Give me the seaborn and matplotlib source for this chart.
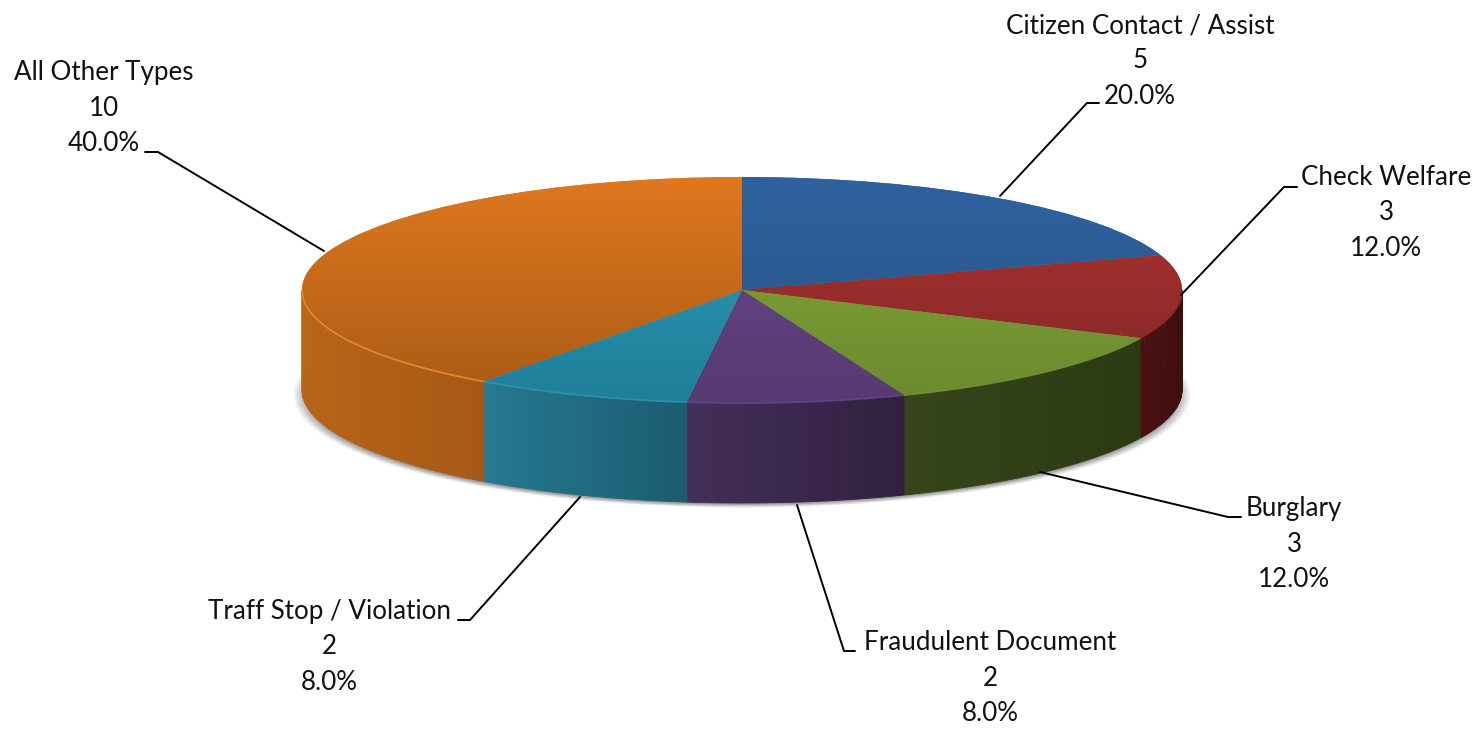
import numpy as np
import matplotlib
matplotlib.use("Agg")
import matplotlib.pyplot as plt
import matplotlib.transforms as mt
from matplotlib.colors import to_rgb
import seaborn as sns

categories = ["Citizen Contact / Assist", "Check Welfare", "Burglary",
              "Fraudulent Document", "Traff Stop / Violation", "All Other Types"]
counts = [5, 3, 3, 2, 2, 10]

top_light = ["#2e62a0", "#ad362f", "#86a93a", "#6a4a90", "#2f9db8", "#e0781f"]
top_dark = ["#2a5384", "#822528", "#6a8a2e", "#563a70", "#1f7f9a", "#a85a16"]
side_left = ["#4a1210", "#4a1210", "#36451a", "#432f5a", "#257a92", "#b96517"]
side_right = ["#3e0e0e", "#3e0e0e", "#2c3a12", "#322040", "#1c5c70", "#a65916"]
rim = ["#2e62a0", "#8a2a28", "#6f8f32", "#5f4384", "#2f8faa", "#e6842a"]

label_pos = [(1140, 61), (1386, 213), (1294, 544), (990, 678), (329, 647), (104, 108)]
leaders = [
    [(1000, 196), (1087, 103), (1099, 103)],
    [(1181, 295), (1284, 187), (1297, 187)],
    [(1040, 472), (1228, 517), (1241, 517)],
    [(797, 505), (844, 651), (855, 651)],
    [(580, 497), (470, 620), (458, 620)],
    [(324, 251), (158, 152), (145, 152)],
]

W, H = 1484, 730
CX, CY, RX, RY, DEPTH = 742, 290, 440, 113, 100

sns.set_theme(style="white")
plt.rcParams["font.family"] = ["Lato", "DejaVu Sans"]
palette = sns.color_palette(top_light)

fig = plt.figure(figsize=(W / 100, H / 100), dpi=100, facecolor="white")
ax = fig.add_axes([0, 0, 1, 1])

wedges, _ = ax.pie(counts, startangle=90, counterclock=False, radius=1,
                   colors=palette, wedgeprops=dict(linewidth=0))
ax.set_aspect("auto")
xlim = (-CX / RX, (W - CX) / RX)
ylim = ((CY - H) / RY, CY / RY)
ax.set_xlim(xlim)
ax.set_ylim(ylim)
ax.set_frame_on(False)
ax.set_xticks([])
ax.set_yticks([])
depth = DEPTH / RY

# soft shadow under the disc
xs = np.linspace(*xlim, 900)
ys = np.linspace(ylim[0], ylim[1], 500)
xx, yy = np.meshgrid(xs, ys)
d = np.sqrt((xx / 1.022) ** 2 + ((yy + 0.93) / 1.0) ** 2)
a = np.clip((1.0 - d) / 0.035, 0, 1) * 0.7
rgba = np.zeros(xx.shape + (4,))
rgba[..., :3] = 0.42
rgba[..., 3] = a
ax.imshow(rgba, extent=(*xlim, *ylim), origin="lower", aspect="auto", zorder=0.5)

# side wall
edges = np.concatenate([[0], np.cumsum(counts)]) / np.sum(counts) * 360
for i in range(len(counts)):
    t0, t1 = max(edges[i], 90), min(edges[i + 1], 270)
    if t1 <= t0:
        continue
    ts = np.radians(np.linspace(t0, t1, 41))
    xv, yv = np.sin(ts), np.cos(ts)
    left, right = np.array(to_rgb(side_left[i])), np.array(to_rgb(side_right[i]))
    for j in range(40):
        f = (xv[j] - xv.min()) / (xv.max() - xv.min())
        c = left + (right - left) * f
        ax.fill([xv[j], xv[j + 1], xv[j + 1], xv[j]],
                [yv[j], yv[j + 1], yv[j + 1] - depth, yv[j] - depth],
                color=c, lw=0.6, zorder=1)

# top face gradients, clipped to the wedges
for i, w in enumerate(wedges):
    w.set_zorder(2)
    c0, c1 = np.array(to_rgb(top_dark[i])), np.array(to_rgb(top_light[i]))
    g = np.linspace(0, 1, 256)[:, None, None]
    img = np.tile(c0[None, None, :], (256, 1, 1)) * (1 - g) + c1[None, None, :] * g
    im = ax.imshow(img, extent=(-1.01, 1.01, -1.01, 1.01), origin="lower",
                   aspect="auto", zorder=3, interpolation="bilinear")
    im.set_clip_path(w)
    t0, t1 = max(edges[i], 90), min(edges[i + 1], 270)
    if t1 > t0:
        ts = np.radians(np.linspace(t0, t1, 60))
        ax.plot(np.sin(ts), np.cos(ts), color=rim[i], lw=1.3, zorder=4,
                solid_capstyle="butt")
ax.set_xlim(xlim)
ax.set_ylim(ylim)

# labels and leader lines in pixel space
px = mt.Affine2D().scale(1, -1).translate(0, H)
total = sum(counts)
for name, n, (lx, ly), pts in zip(categories, counts, label_pos, leaders):
    ax.text(lx, ly, f"{name}\n{n}\n{100 * n / total:.1f}%", transform=px,
            ha="center", va="center", fontsize=18.7, color="#111111",
            linespacing=1.52, zorder=6)
    ax.plot(*zip(*pts), transform=px, color="black", lw=1.4, zorder=5,
            solid_joinstyle="round")

fig.savefig("out.png", dpi=100, facecolor="white")
